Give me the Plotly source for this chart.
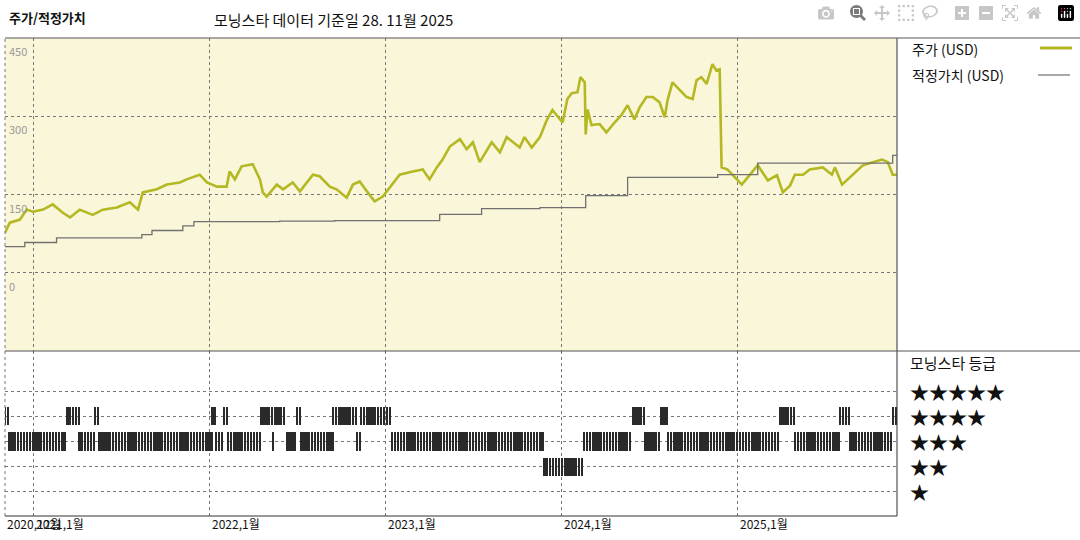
import pandas as pd
from plotly.subplots import make_subplots
import plotly.graph_objects as go

price_dates = ['2020-11-02', '2020-11-12', '2020-12-03', '2020-12-17', '2020-12-30', '2021-01-20', '2021-02-09',
               '2021-03-02', '2021-03-17', '2021-04-06', '2021-05-03', '2021-05-24', '2021-06-22', '2021-07-19',
               '2021-08-05', '2021-08-15', '2021-09-13', '2021-10-04', '2021-10-31', '2021-11-14', '2021-12-11',
               '2021-12-26', '2022-01-16', '2022-02-05', '2022-02-11', '2022-02-22', '2022-03-08', '2022-03-31',
               '2022-04-15', '2022-04-21', '2022-04-29', '2022-05-20', '2022-06-02', '2022-06-22', '2022-07-07',
               '2022-08-03', '2022-08-17', '2022-09-07', '2022-09-21', '2022-10-12', '2022-10-25', '2022-11-08',
               '2022-11-23', '2022-12-09', '2022-12-26', '2023-01-03', '2023-01-30', '2023-02-26', '2023-03-19',
               '2023-04-02', '2023-04-17', '2023-04-29', '2023-05-14', '2023-06-04', '2023-06-18', '2023-07-01',
               '2023-07-15', '2023-08-09', '2023-08-26', '2023-09-09', '2023-10-06', '2023-10-16', '2023-10-31',
               '2023-11-17', '2023-12-01', '2023-12-13', '2024-01-03', '2024-01-13', '2024-01-22', '2024-02-03',
               '2024-02-09', '2024-02-18', '2024-02-20', '2024-02-24', '2024-03-03', '2024-03-20', '2024-04-03',
               '2024-04-20', '2024-05-04', '2024-05-17', '2024-05-31', '2024-06-11', '2024-06-25', '2024-07-08',
               '2024-07-22', '2024-08-02', '2024-08-08', '2024-08-18', '2024-09-02', '2024-09-16', '2024-09-29',
               '2024-10-07', '2024-10-17', '2024-10-28', '2024-11-09', '2024-11-17', '2024-11-24', '2024-11-28',
               '2024-12-10', '2024-12-29', '2025-01-09', '2025-01-26', '2025-02-11', '2025-03-04', '2025-03-23',
               '2025-04-04', '2025-04-19', '2025-04-29', '2025-05-16', '2025-05-30', '2025-06-26', '2025-07-15',
               '2025-07-21', '2025-08-05', '2025-08-27', '2025-09-17', '2025-10-08', '2025-10-27', '2025-11-08',
               '2025-11-18', '2025-11-26']
price = [77, 96, 102, 121, 117, 121, 131, 115, 106, 121, 111, 121, 125, 135, 121, 154, 160, 169, 173, 179, 188,
         173, 165, 165, 194, 179, 204, 208, 179, 154, 146, 169, 160, 173, 156, 188, 185, 165, 160, 144, 169, 175,
         156, 137, 146, 156, 188, 194, 198, 179, 202, 217, 242, 256, 237, 250, 212, 250, 231, 260, 240, 260, 240,
         260, 292, 312, 288, 333, 344, 346, 375, 365, 265, 313, 283, 285, 269, 288, 302, 321, 294, 317, 337, 337,
         327, 298, 331, 365, 350, 337, 333, 369, 375, 362, 400, 388, 390, 202, 198, 179, 169, 188, 206, 177, 187,
         154, 167, 188, 188, 198, 202, 188, 202, 169, 188, 206, 212, 217, 212, 188, 188]

fair_dates = ['2020-11-02', '2020-12-13', '2021-02-17', '2021-08-13', '2021-09-03', '2021-11-06', '2021-11-29',
              '2022-05-26', '2022-09-17', '2023-04-23', '2023-07-19', '2023-11-17', '2024-02-20', '2024-05-17',
              '2024-11-20', '2025-02-11', '2025-11-18', '2025-11-26']
fair_value = [50, 58, 67, 73, 81, 90, 98, 99, 100, 112, 123, 125, 148, 183, 188, 210, 225, 225]

# rating periods: start date and star rating (each runs until the next start)
rating_start = ['2020-11-02', '2020-11-12', '2021-03-12', '2021-04-06', '2021-05-08', '2021-05-16', '2022-01-07',
                '2022-01-15', '2022-01-31', '2022-02-08', '2022-04-17', '2022-05-12', '2022-05-18', '2022-06-10',
                '2022-07-01', '2022-07-09', '2022-09-14', '2022-11-03', '2022-11-11', '2023-01-15', '2023-11-27',
                '2024-02-17', '2024-05-28', '2024-06-22', '2024-07-27', '2024-08-09', '2025-03-29', '2025-04-30',
                '2025-08-02', '2025-08-23', '2025-11-20']
rating = [4, 3, 4, 3, 4, 3, 4, 3, 4, 3, 4, 3, 4, 3, 4, 3, 4, 3, 4, 3, 2, 3, 4, 3, 4, 3, 4, 3, 4, 3, 4]
rating_end = '2025-11-28'

year_ticks = ['2021-01-01', '2022-01-01', '2023-01-01', '2024-01-01', '2025-01-01']
year_labels = ['2021,1월', '2022,1월', '2023,1월', '2024,1월', '2025,1월']
price_ticks = [0, 150, 300, 450]

W, H = 1080, 540
x0, x1 = 5 / W, 897 / W
y_top, y_mid, y_bot = 1 - 38 / H, 1 - 351 / H, 1 - 516 / H
FONT = 'Noto Sans CJK KR'
GREEN = '#b4b822'

fig = make_subplots(rows=2, cols=1, shared_xaxes=True, vertical_spacing=0)

fig.add_trace(go.Scatter(x=pd.to_datetime(price_dates), y=price, mode='lines',
                         line={'color': GREEN, 'width': 2.6}), row=1, col=1)
fig.add_trace(go.Scatter(x=pd.to_datetime(fair_dates), y=fair_value, mode='lines',
                         line={'color': '#707070', 'width': 1.3, 'shape': 'hv'}), row=1, col=1)

# striped bars for rating history
bx, bbase = [], []
ends = rating_start[1:] + [rating_end]
for s, e, r in zip(rating_start, ends, rating):
    for d in pd.date_range(s, e, freq='6D', inclusive='left'):
        bx.append(d)
        bbase.append(r - 0.36)
fig.add_trace(go.Bar(x=bx, y=[0.72] * len(bx), base=bbase, width=3.6 * 86400000,
                     marker={'color': '#2a2a2a', 'line': {'width': 0}}), row=2, col=1)

xr = ['2020-11-02', '2025-11-27']
grid = {'showgrid': True, 'gridcolor': '#777', 'griddash': 'dot', 'gridwidth': 1}
fig.update_xaxes(range=xr, tickvals=year_ticks, showticklabels=False, zeroline=False, **grid)
fig.update_xaxes(domain=[x0, x1])
fig.update_yaxes(range=[-150, 450], tickvals=price_ticks, showticklabels=False, zeroline=False,
                 domain=[y_mid, y_top], row=1, col=1, **grid)
fig.update_yaxes(range=[0.04, 6.6], tickvals=[1, 2, 3, 4, 5], showticklabels=False, zeroline=False,
                 domain=[y_bot, y_mid], row=2, col=1, **grid)

shapes = [
    dict(type='rect', xref='paper', yref='paper', x0=x0, x1=x1, y0=y_mid, y1=y_top,
         fillcolor='#faf6da', line_width=0, layer='below'),
    dict(type='line', xref='paper', yref='paper', x0=x0, x1=x0, y0=y_bot, y1=y_top,
         line={'color': '#777', 'width': 1, 'dash': 'dot'}),
    dict(type='line', xref='paper', yref='paper', x0=x1, x1=x1, y0=y_bot, y1=y_top,
         line={'color': '#333', 'width': 1}),
    dict(type='line', xref='paper', yref='paper', x0=x0, x1=1, y0=y_top, y1=y_top,
         line={'color': '#555', 'width': 1}),
    dict(type='line', xref='paper', yref='paper', x0=x0, x1=1, y0=y_mid, y1=y_mid,
         line={'color': '#555', 'width': 1}),
    dict(type='line', xref='paper', yref='paper', x0=x0, x1=x1, y0=y_bot, y1=y_bot,
         line={'color': '#333', 'width': 1}),
    dict(type='line', xref='paper', yref='paper', x0=1040 / W, x1=1072 / W, y0=1 - 48 / H, y1=1 - 48 / H,
         line={'color': GREEN, 'width': 3}),
    dict(type='line', xref='paper', yref='paper', x0=1038 / W, x1=1070 / W, y0=1 - 75 / H, y1=1 - 75 / H,
         line={'color': '#707070', 'width': 1.2}),
]

ann = [
    dict(text='<b>주가/적정가치</b>', x=7 / W, y=1 - 18 / H, font={'size': 13}),
    dict(text='모닝스타 데이터 기준일 28. 11월 2025', x=212 / W, y=1 - 20 / H, font={'size': 15}),
    dict(text='주가 (USD)', x=910 / W, y=1 - 49 / H, font={'size': 14}),
    dict(text='적정가치 (USD)', x=910 / W, y=1 - 75 / H, font={'size': 14}),
    dict(text='모닝스타 등급', x=908 / W, y=1 - 362 / H, font={'size': 15}),
    dict(text='2020,12월', x=5 / W, y=1 - 523 / H, font={'size': 12}),
]
for i, n in enumerate([5, 4, 3, 2, 1]):
    ann.append(dict(text='★' * n, x=908 / W, y=1 - (391 + 25 * i) / H, font={'size': 19}))
for v in price_ticks:
    ann.append(dict(text=str(v), x=7 / W, y=v, xref='paper', yref='y', yanchor='top', yshift=-3,
                    font={'size': 11, 'color': '#999'}))
for t, lab in zip(year_ticks, year_labels):
    ann.append(dict(text=lab, x=t, xref='x2', y=1 - 523 / H, font={'size': 12}))
for a in ann:
    a.setdefault('xref', 'paper')
    a.setdefault('yref', 'paper')
    a.setdefault('xanchor', 'left')
    a.setdefault('yanchor', 'middle')
    a['showarrow'] = False

fig.update_layout(width=W, height=H, margin={'l': 0, 'r': 0, 't': 0, 'b': 0},
                  plot_bgcolor='rgba(0,0,0,0)', paper_bgcolor='white', showlegend=False,
                  font={'family': FONT, 'color': '#111'}, shapes=shapes, annotations=ann, bargap=0)
fig.write_html('out.html', post_script="document.body.style.margin='0';")
